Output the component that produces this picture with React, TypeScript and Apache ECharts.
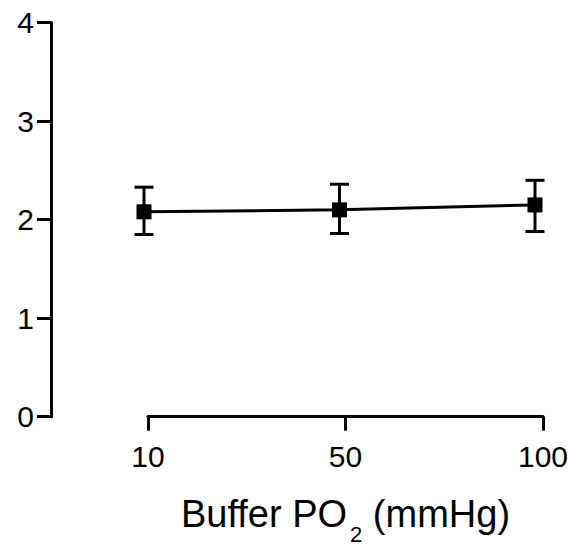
import React, { useEffect, useRef } from "react";
import * as echarts from "echarts";

const categories = ["10", "50", "100"];
const means = [2.08, 2.1, 2.15];
const lows = [1.85, 1.86, 1.88];
const highs = [2.33, 2.36, 2.4];
const yTicks = [0, 1, 2, 3, 4];

const FONT = "Arial, 'Liberation Sans', sans-serif";

export default function App() {
  const ref = useRef<HTMLDivElement>(null);
  useEffect(() => {
    if (!ref.current) return;
    const chart = echarts.init(ref.current, null, { renderer: "svg" });
    const errData = categories.map((_, i) => [i, lows[i], highs[i]]);
    chart.setOption({
      animation: false,
      backgroundColor: "#ffffff",
      grid: [
        { left: 144, right: 38, top: 22.7, bottom: 131.3, outerBoundsMode: "none", containLabel: false },
        { left: 148, right: 30, top: 22.7, bottom: 131.3, outerBoundsMode: "none", containLabel: false },
      ],
      xAxis: [
        {
          gridIndex: 0,
          type: "category",
          data: categories,
          boundaryGap: false,
          show: false,
        },
        {
          gridIndex: 1,
          type: "category",
          data: categories,
          boundaryGap: false,
          axisLine: { show: true, lineStyle: { color: "#000", width: 3 } },
          axisTick: { show: true, length: 14, lineStyle: { color: "#000", width: 3 } },
          axisLabel: { color: "#000", fontSize: 30, fontFamily: FONT, margin: 25 },
          splitLine: { show: false },
          name: "Buffer PO{sub|2} (mmHg)",
          nameLocation: "middle",
          nameGap: 78,
          nameTextStyle: {
            color: "#000",
            fontSize: 38,
            fontFamily: FONT,
            lineHeight: 38,
            verticalAlign: "top",
            rich: {
              sub: {
                color: "#000",
                fontSize: 22,
                fontFamily: FONT,
                lineHeight: 22,
                verticalAlign: "top",
                padding: [29, 0, 0, 3],
              },
            },
          },
        },
      ],
      yAxis: [
        {
          gridIndex: 0,
          type: "value",
          min: yTicks[0],
          max: yTicks[yTicks.length - 1],
          interval: 1,
          offset: 93,
          axisLine: { show: true, lineStyle: { color: "#000", width: 3 } },
          axisTick: { show: true, length: 14, lineStyle: { color: "#000", width: 3 } },
          axisLabel: { color: "#000", fontSize: 30, fontFamily: FONT, margin: 17 },
          splitLine: { show: false },
        },
        {
          gridIndex: 1,
          type: "value",
          min: yTicks[0],
          max: yTicks[yTicks.length - 1],
          show: false,
        },
      ],
      series: [
        {
          type: "custom",
          xAxisIndex: 0,
          yAxisIndex: 0,
          data: errData,
          encode: { x: 0, y: [1, 2] },
          z: 1,
          renderItem: (params: any, api: any) => {
            const x = api.value(0);
            const lo = api.coord([x, api.value(1)]);
            const hi = api.coord([x, api.value(2)]);
            const w = 9.5;
            const style = { stroke: "#000", lineWidth: 3 };
            return {
              type: "group",
              children: [
                { type: "line", shape: { x1: lo[0], y1: lo[1], x2: hi[0], y2: hi[1] }, style },
                { type: "line", shape: { x1: hi[0] - w, y1: hi[1], x2: hi[0] + w, y2: hi[1] }, style },
                { type: "line", shape: { x1: lo[0] - w, y1: lo[1], x2: lo[0] + w, y2: lo[1] }, style },
              ],
            };
          },
        },
        {
          type: "line",
          xAxisIndex: 0,
          yAxisIndex: 0,
          data: means,
          symbol: "rect",
          symbolSize: 15,
          z: 2,
          lineStyle: { color: "#000", width: 3 },
          itemStyle: { color: "#000" },
        },
      ],
    });
    return () => chart.dispose();
  }, []);
  return (
    <div
      ref={ref}
      style={{ position: "fixed", left: 0, top: 0, width: 573, height: 548, background: "#fff" }}
    />
  );
}
